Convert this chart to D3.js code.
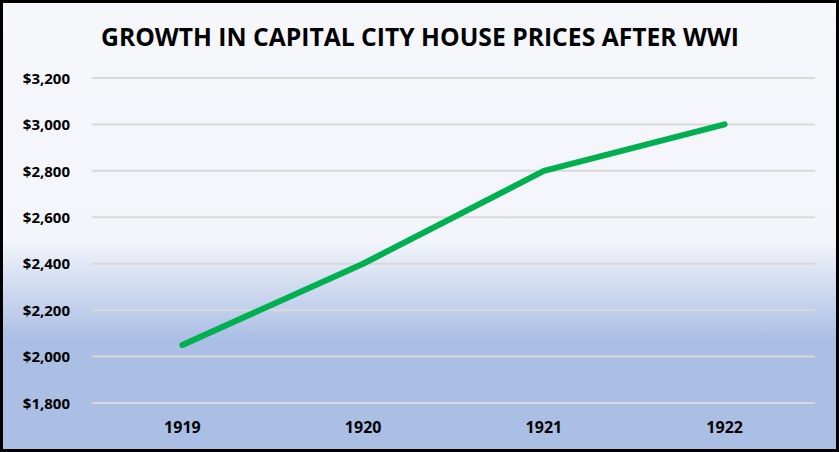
<!DOCTYPE html>
<html><head><meta charset="utf-8">
<script src="https://cdn.jsdelivr.net/npm/d3@7"></script>
<style>html,body{margin:0;padding:0;background:#fff;}svg{display:block;}</style>
</head><body>
<script>
const title = "GROWTH IN CAPITAL CITY HOUSE PRICES AFTER WWI";
const years = ["1919", "1920", "1921", "1922"];
const prices = [2050, 2400, 2800, 3000];
const yTicks = [1800, 2000, 2200, 2400, 2600, 2800, 3000, 3200];

const W = 839, H = 452;
const svg = d3.select("body").append("svg").attr("width", W).attr("height", H);
const defs = svg.append("defs");
const grad = defs.append("linearGradient").attr("id", "bg").attr("x1", 0).attr("y1", 0).attr("x2", 0).attr("y2", 1);
grad.append("stop").attr("offset", "0%").attr("stop-color", "#f5f7fb");
grad.append("stop").attr("offset", "53%").attr("stop-color", "#f3f5fa");
grad.append("stop").attr("offset", "75%").attr("stop-color", "#abbfe5");
grad.append("stop").attr("offset", "100%").attr("stop-color", "#abbfe5");

svg.append("rect").attr("x", 0).attr("y", 0).attr("width", W).attr("height", H).attr("fill", "url(#bg)");

const x = d3.scaleBand().domain(years).range([92, 815]);
const y = d3.scaleLinear().domain([1800, 3200]).range([403, 78]);

const font = "'Open Sans', 'DejaVu Sans', sans-serif";

// gridlines
svg.append("g").selectAll("line").data(yTicks).join("line")
  .attr("x1", 92).attr("x2", 815)
  .attr("y1", d => y(d)).attr("y2", d => y(d))
  .attr("stroke", "#d9d9d9").attr("stroke-width", 2);

// y axis
const yAxis = d3.axisLeft(y).tickValues(yTicks).tickSize(0).tickPadding(0)
  .tickFormat(d => "$" + d3.format(",")(d));
const gy = svg.append("g").attr("transform", "translate(70,0)").call(yAxis);
gy.select(".domain").remove();
gy.selectAll("text").attr("font-family", font).attr("font-weight", "bold")
  .attr("font-size", 15).attr("fill", "#000").attr("dy", "0.35em");

// x axis
const xAxis = d3.axisBottom(x).tickSize(0).tickPadding(0);
const gx = svg.append("g").attr("transform", "translate(0,427)").call(xAxis);
gx.select(".domain").remove();
gx.selectAll("text").attr("font-family", font).attr("font-weight", "bold")
  .attr("font-size", 16).attr("fill", "#000").attr("dy", "0.35em");

// line
const line = d3.line().x((d, i) => x(years[i]) + x.bandwidth() / 2).y(d => y(d));
svg.append("path").datum(prices).attr("d", line)
  .attr("fill", "none").attr("stroke", "#00b050").attr("stroke-width", 6)
  .attr("stroke-linecap", "round").attr("stroke-linejoin", "round");

// title
svg.append("text").attr("x", 420).attr("y", 46).attr("text-anchor", "middle")
  .attr("font-family", font).attr("font-weight", "bold").attr("font-size", 24.7)
  .attr("fill", "#000").text(title);

// border
svg.append("rect").attr("x", 1.5).attr("y", 1.5).attr("width", W - 3).attr("height", H - 3)
  .attr("fill", "none").attr("stroke", "#000").attr("stroke-width", 3);
</script>
</body></html>
